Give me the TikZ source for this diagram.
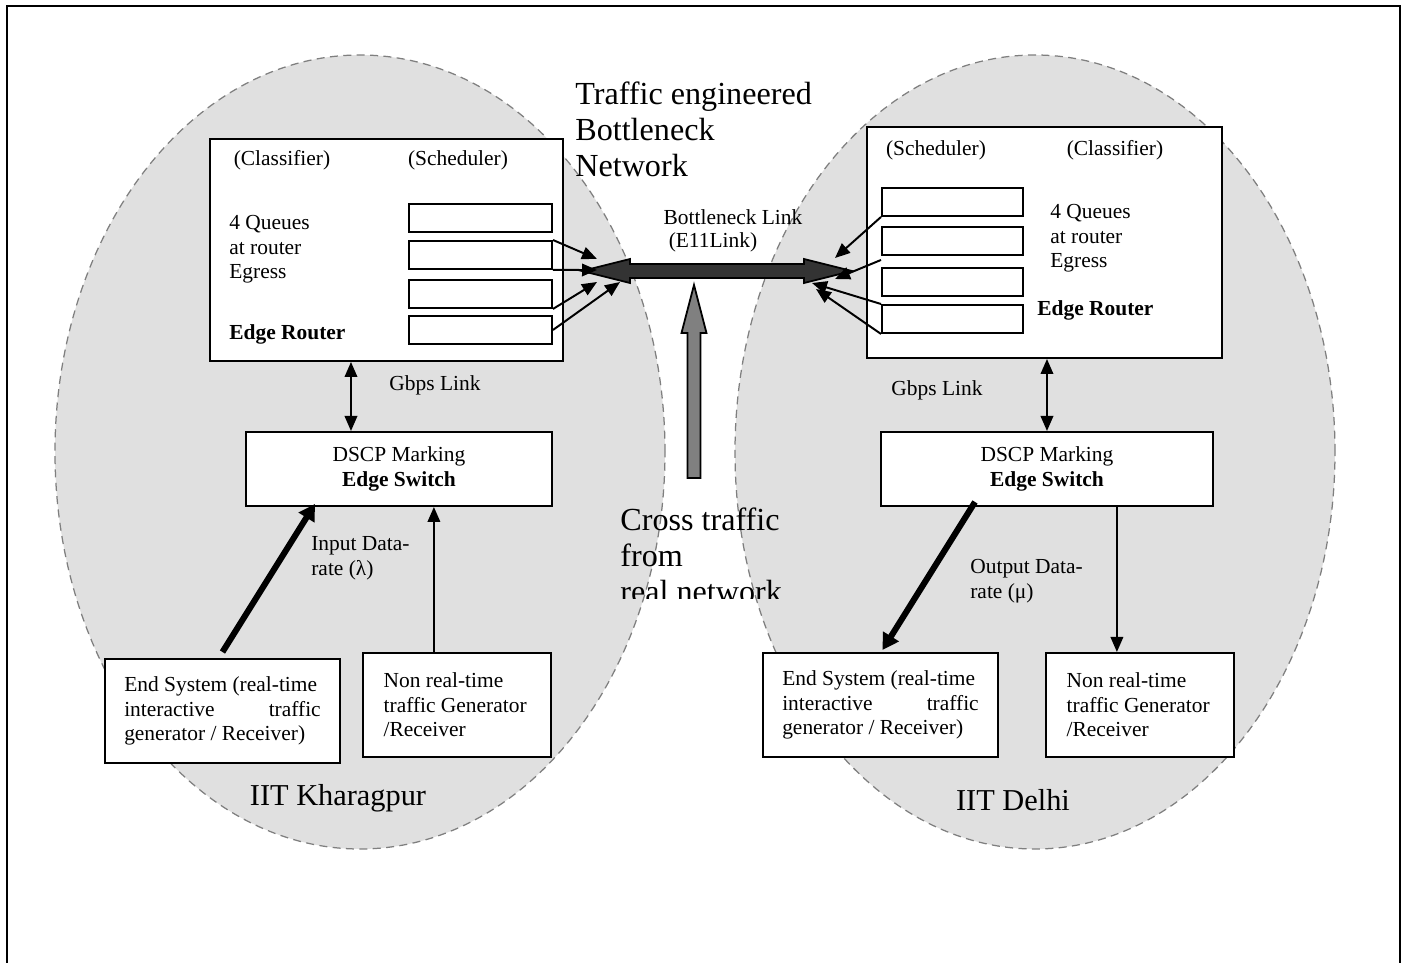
\documentclass[tikz,border=0pt]{standalone}
\usepackage{fontspec}
\setmainfont{Liberation Serif}
\usepackage{tikz}
\usetikzlibrary{arrows.meta,positioning,calc,shapes.geometric}
\definecolor{zonefill}{HTML}{E0E0E0}
\definecolor{zoneline}{HTML}{7F7F7F}
\definecolor{linkdark}{HTML}{333333}
\definecolor{crossgray}{HTML}{808080}
\newcommand{\pxu}{0.56pt}
\newcommand{\txtsize}{\fontsize{12}{13.8}\selectfont}
\newcommand{\bigsize}{\fontsize{18}{20}\selectfont}
\newcommand{\sitesize}{\fontsize{17}{20}\selectfont}
\newcommand{\spread}{\hspace{0pt plus 1fill}}
\tikzset{
    zone/.style={ellipse,draw=zoneline,fill=zonefill,line width=0.7pt,
      dash pattern=on 4.5pt off 3pt,inner sep=0pt},
    router/.style={draw=black,fill=white,line width=1.1pt,anchor=north west,inner sep=0pt},
    queue/.style={draw=black,fill=white,line width=1.1pt,anchor=north west,inner sep=0pt,
      minimum height=28*\pxu},
    swbox/.style={draw=black,fill=white,line width=1.1pt,anchor=north west,inner sep=0pt,
      font=\txtsize,align=center,minimum height=74*\pxu},
    hostbox/.style={draw=black,fill=white,line width=1.1pt,anchor=north west,inner ysep=0pt,
      font=\txtsize,align=flush left,minimum height=104*\pxu},
    lbl/.style={font=\txtsize,inner sep=0pt,align=left},
    biglbl/.style={font=\bigsize,inner sep=0pt,align=left},
    sitelbl/.style={font=\sitesize,inner sep=0pt},
    flow/.style={-{Triangle[length=8.4pt,width=7pt]},line width=1.1pt},
    twoway/.style={{Triangle[length=8.4pt,width=7pt]}-{Triangle[length=8.4pt,width=7pt]},
      line width=1.1pt},
    heavy/.style={-{Triangle[length=9pt,width=10pt]},line width=3.4pt},
    fatlink/.style={draw=black,line width=1pt,line join=miter}
}
\begin{document}
\begin{tikzpicture}[x=0.56pt,y=-0.56pt]
  \useasboundingbox (0,0) rectangle (1406,963);
  \draw[line width=1.5pt] (7,963) -- (7,6) -- (1400,6) -- (1400,963);
  % the two campuses
  \node[zone,minimum width=610*\pxu,minimum height=794*\pxu] (kgp) at (360,452) {};
  \node[zone,minimum width=600*\pxu,minimum height=794*\pxu] (del) at (1035,452) {};

  % IIT Kharagpur
  \node[router,minimum width=353*\pxu,minimum height=222*\pxu] (routerK) at (209,138) {};
  \foreach \i/\y in {1/203,2/240,3/279,4/315}
    \node[queue,minimum width=143*\pxu] (qK\i) at (408,\y) {};
  \node[lbl] (clsK) at (282,160) {(Classifier)};
  \node[lbl] (schK) at (458,160) {(Scheduler)};
  \node[lbl,anchor=north west] (egK) at (229,215) {4 Queues\\at router\\Egress};
  \node[lbl,anchor=west] (erK) at (229,334) {\textbf{Edge Router}};
  \node[swbox,minimum width=306*\pxu] (swK) at (245,431) {DSCP Marking\\\textbf{Edge Switch}};
  \node[hostbox,text width=110pt,inner xsep=10.8pt] (endK) at (104,658)
    {End System (real-time\\interactive\spread traffic\\generator / Receiver)};
  \node[hostbox,text width=82pt,inner xsep=11.6pt] (nrtK) at (362,652)
    {Non real-time\\traffic Generator\\/Receiver};
  \node[lbl] (gbK) at (435,385) {Gbps Link};
  \node[lbl,anchor=north west] (inK) at (311,536) {Input Data-\\rate (λ)};
  \node[sitelbl] (siteK) at (338,798) {IIT Kharagpur};

  % IIT Delhi
  \node[router,minimum width=355*\pxu,minimum height=231*\pxu] (routerD) at (866,126) {};
  \foreach \i/\y in {1/187,2/226,3/267,4/304}
    \node[queue,minimum width=141*\pxu] (qD\i) at (881,\y) {};
  \node[lbl] (schD) at (936,150) {(Scheduler)};
  \node[lbl] (clsD) at (1115,150) {(Classifier)};
  \node[lbl,anchor=north west] (egD) at (1050,204) {4 Queues\\at router\\Egress};
  \node[lbl,anchor=west] (erD) at (1037,310) {\textbf{Edge Router}};
  \node[swbox,minimum width=332*\pxu] (swD) at (880,431) {DSCP Marking\\\textbf{Edge Switch}};
  \node[hostbox,text width=110pt,inner xsep=10.8pt] (endD) at (762,652)
    {End System (real-time\\interactive\spread traffic\\generator / Receiver)};
  \node[hostbox,text width=82pt,inner xsep=11.6pt] (nrtD) at (1045,652)
    {Non real-time\\traffic Generator\\/Receiver};
  \node[lbl] (gbD) at (937,390) {Gbps Link};
  \node[lbl,anchor=north west] (outD) at (970,559) {Output Data-\\rate (μ)};
  \node[sitelbl] (siteD) at (1013,800) {IIT Delhi};

  % bottleneck network in between
  \node[biglbl,anchor=north west] (tebn) at (575,82) {Traffic engineered\\Bottleneck\\Network};
  \node[lbl] (bnl) at (733,217) {Bottleneck Link};
  \node[lbl] (e11) at (713,242) {(E11Link)};
  \begin{scope}
    \clip (600,480) rectangle (800,599);
    \node[biglbl,anchor=north west] (cross) at (620,508) {Cross traffic\\from\\real network};
  \end{scope}

  \coordinate (bnL) at (582,271);
  \coordinate (bnR) at (852,271);
  \filldraw[fatlink,fill=linkdark] (bnL) -- ++(48,-12) -- ++(0,5) -- ($(bnR)+(-48,-7)$)
    -- ++(0,-5) -- (bnR) -- ++(-48,12) -- ++(0,-5) -- ($(bnL)+(48,7)$) -- ++(0,5) -- cycle;
  \coordinate (ctTip) at (694,285);
  \coordinate (ctBase) at (694,478);
  \filldraw[fatlink,fill=crossgray] (ctTip) -- ++(12.5,48) -- ++(-6,0) -- ($(ctBase)+(6.5,0)$)
    -- ++(-13,0) -- ($(ctTip)+(-6.5,48)$) -- ++(-6,0) -- cycle;

  % queues to the link
  \draw[flow] (qK2.north east) -- ($(bnL)+(15,-12)$);
  \draw[flow] (qK2.south east) -- ($(bnL)+(15,-1)$);
  \draw[flow] (qK3.south east) -- ($(bnL)+(15,11)$);
  \draw[flow] (qK4.east) -- ($(bnL)+(38,11)$);
  \draw[flow] (qD1.south west) -- ($(bnR)+(-17,-13)$);
  \draw[flow] ($(qD2.south west)+(0,4)$) -- ($(bnR)+(-17,8)$);
  \draw[flow] (qD4.north west) -- ($(bnR)+(-40,12)$);
  \draw[flow] (qD4.south west) -- ($(bnR)+(-36,18)$);

  % router <-> switch
  \coordinate (lkK) at ($(swK.north)+(-48,0)$);
  \draw[twoway] (lkK) -- (lkK |- routerK.south);
  \draw[twoway] (swD.north) -- (swD.north |- routerD.south);

  % hosts and switches
  \draw[heavy] ($(endK.north)+(0,-6)$) -- ($(swK.south west)+(70,-3)$);
  \coordinate (nrK) at ($(nrtK.north)+(-23,0)$);
  \draw[flow] (nrK) -- (nrK |- swK.south);
  \draw[heavy] ($(swD.south west)+(95,-5)$) -- ($(endD.north)+(2,-2)$);
  \coordinate (nrD) at ($(nrtD.north)+(-23,0)$);
  \draw[flow] (nrD |- swD.south) -- (nrD);
\end{tikzpicture}
\end{document}
